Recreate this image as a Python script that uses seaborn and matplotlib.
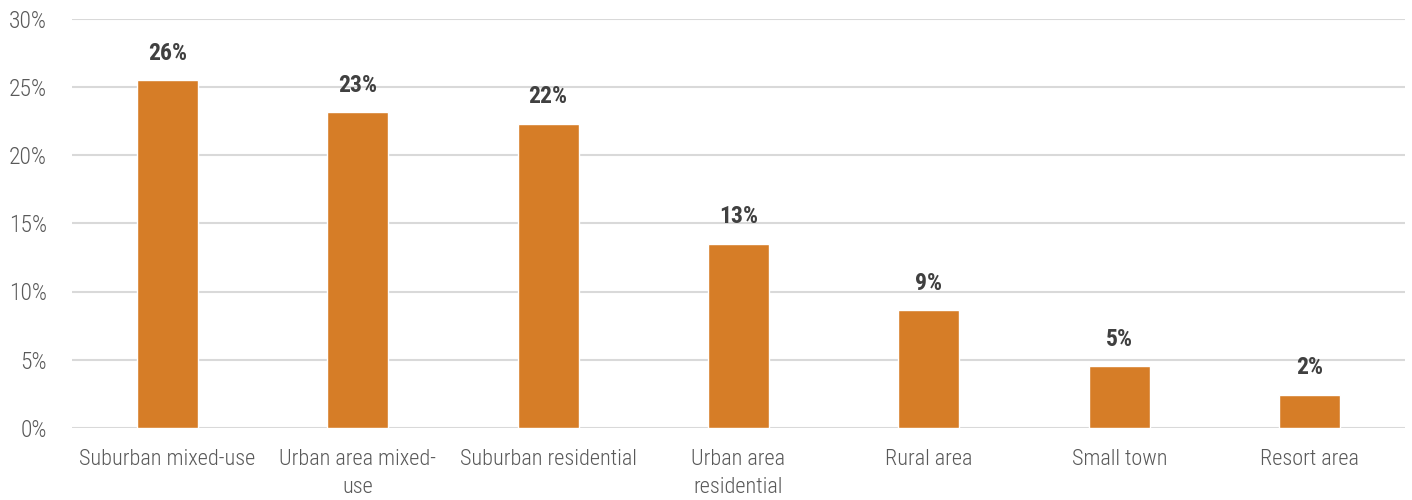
import matplotlib
matplotlib.use("Agg")
import matplotlib.pyplot as plt
import seaborn as sns
import pandas as pd

# ------------------------
# data
# ------------------------
categories = [
    "Suburban mixed-use",
    "Urban area mixed-\nuse",
    "Suburban residential",
    "Urban area\nresidential",
    "Rural area",
    "Small town",
    "Resort area",
]
shares = [25.5, 23.15, 22.3, 13.5, 8.65, 4.55, 2.45]
share_labels = ["26%", "23%", "22%", "13%", "9%", "5%", "2%"]
y_ticks = [0, 5, 10, 15, 20, 25, 30]

df = pd.DataFrame({"category": categories, "share": shares})

sns.set_style("white")
plt.rcParams["font.family"] = ["Roboto Condensed", "Roboto", "DejaVu Sans"]

fig = plt.figure(figsize=(14.12, 5), dpi=100)
ax = fig.add_axes([0.051, 0.144, 0.944, 0.819])

sns.barplot(data=df, x="category", y="share", color="#D67D27",
            width=0.32, saturation=1, ax=ax, zorder=3)

# value labels above bars
for i, (v, lab) in enumerate(zip(shares, share_labels)):
    ax.annotate(lab, (i, v), xytext=(0, 11), textcoords="offset points",
                ha="center", va="bottom", fontsize=17, fontweight="bold",
                color="#404040")

ax.set_ylim(0, 30)
ax.set_xlim(-0.5, len(categories) - 0.5)
ax.set_yticks(y_ticks)
ax.set_yticklabels([f"{t}%" for t in y_ticks])
ax.yaxis.grid(True, color="#D9D9D9", linewidth=1.5, zorder=0)
ax.set_xlabel("")
ax.set_ylabel("")
for s in ax.spines.values():
    s.set_visible(False)
ax.tick_params(axis="both", length=0, labelsize=16, labelcolor="#595959")
ax.tick_params(axis="x", pad=15)
ax.tick_params(axis="y", pad=18, labelsize=17)
for t in ax.get_xticklabels() + ax.get_yticklabels():
    t.set_fontweight("light")
    t.set_linespacing(1.45)

fig.savefig("out.png", dpi=100)
